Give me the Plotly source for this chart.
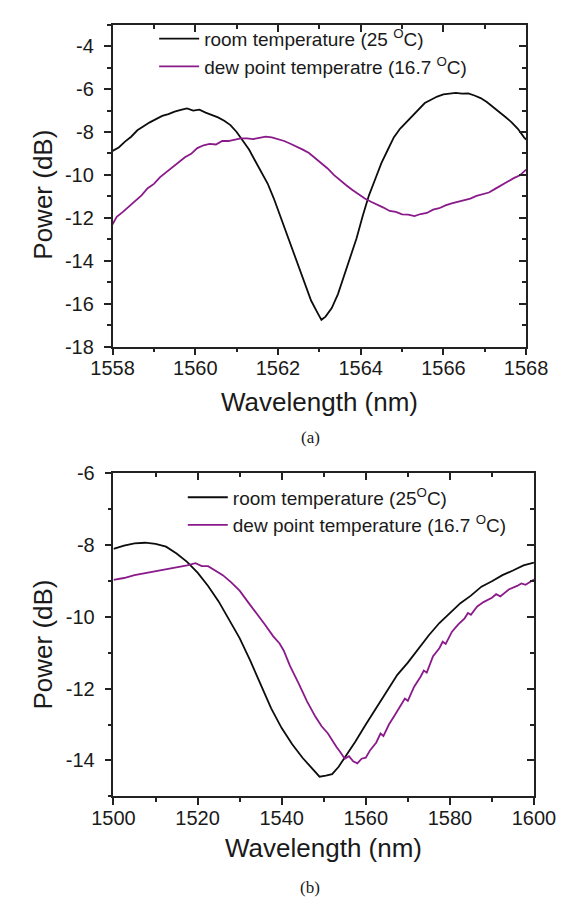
import plotly.graph_objects as go

# ---------------- data: panel (a) ----------------
a_room_x = [1558.0, 1558.15, 1558.3, 1558.45, 1558.6, 1558.75, 1558.9, 1559.05, 1559.2, 1559.35,
            1559.5, 1559.65, 1559.8, 1559.95, 1560.1, 1560.25, 1560.4, 1560.55, 1560.7, 1560.85,
            1561.0, 1561.15, 1561.3, 1561.45, 1561.6, 1561.75, 1561.9, 1562.05, 1562.2, 1562.35,
            1562.5, 1562.65, 1562.8, 1562.95, 1563.05, 1563.15, 1563.3, 1563.45, 1563.6, 1563.75,
            1563.9, 1564.05, 1564.2, 1564.35, 1564.5, 1564.65, 1564.8, 1564.95, 1565.1, 1565.25,
            1565.4, 1565.55, 1565.7, 1565.85, 1566.0, 1566.15, 1566.3, 1566.45, 1566.6, 1566.75,
            1566.9, 1567.05, 1567.2, 1567.35, 1567.5, 1567.65, 1567.8, 1567.95, 1568.0]
a_room_y = [-8.88, -8.72, -8.45, -8.22, -7.92, -7.72, -7.55, -7.4, -7.25, -7.17,
            -7.05, -6.97, -6.9, -7.0, -6.96, -7.1, -7.2, -7.32, -7.48, -7.68,
            -8.0, -8.4, -8.82, -9.35, -9.85, -10.4, -11.1, -11.9, -12.7, -13.55,
            -14.35, -15.1, -15.85, -16.4, -16.75, -16.6, -16.2, -15.55, -14.7, -13.75,
            -12.95, -11.9, -10.95, -10.2, -9.45, -8.85, -8.25, -7.85, -7.55, -7.2,
            -6.9, -6.65, -6.5, -6.35, -6.25, -6.2, -6.18, -6.21, -6.2, -6.3,
            -6.42, -6.6, -6.82, -7.05, -7.3, -7.55, -7.85, -8.25, -8.35]

a_dew_x = [1558.0, 1558.1, 1558.25, 1558.4, 1558.55, 1558.7, 1558.85, 1559.0, 1559.15, 1559.3,
           1559.45, 1559.6, 1559.75, 1559.9, 1560.05, 1560.2, 1560.35, 1560.5, 1560.65, 1560.8,
           1560.95, 1561.1, 1561.25, 1561.4, 1561.55, 1561.7, 1561.85, 1562.0, 1562.15, 1562.3,
           1562.45, 1562.6, 1562.75, 1562.9, 1563.05, 1563.2, 1563.35, 1563.5, 1563.65, 1563.8,
           1563.95, 1564.1, 1564.25, 1564.4, 1564.55, 1564.7, 1564.85, 1565.0, 1565.15, 1565.3,
           1565.45, 1565.6, 1565.75, 1565.9, 1566.05, 1566.2, 1566.35, 1566.5, 1566.65, 1566.8,
           1566.95, 1567.1, 1567.25, 1567.4, 1567.55, 1567.7, 1567.85, 1568.0]
a_dew_y = [-12.3, -11.95, -11.72, -11.45, -11.22, -10.95, -10.62, -10.42, -10.1, -9.87,
           -9.62, -9.42, -9.18, -9.02, -8.75, -8.62, -8.55, -8.58, -8.42, -8.42,
           -8.35, -8.3, -8.3, -8.33, -8.27, -8.22, -8.25, -8.32, -8.42, -8.55,
           -8.68, -8.82, -8.98, -9.22, -9.42, -9.7, -10.0, -10.25, -10.48, -10.7,
           -10.9, -11.1, -11.25, -11.38, -11.52, -11.68, -11.72, -11.84, -11.85, -11.92,
           -11.82, -11.77, -11.62, -11.55, -11.42, -11.33, -11.25, -11.15, -11.1, -10.98,
           -10.9, -10.82, -10.65, -10.48, -10.33, -10.15, -10.02, -9.75]

# ---------------- data: panel (b) ----------------
b_room_x = [1500, 1502.5, 1505, 1507.5, 1510, 1512.5, 1515, 1517.5, 1520, 1522.5,
            1525, 1527.5, 1530, 1532.5, 1535, 1537.5, 1540, 1542.5, 1545, 1547.5,
            1549, 1550.5, 1552, 1553.5, 1555, 1557.5, 1560, 1562.5, 1565, 1567.5,
            1570, 1572.5, 1575, 1577.5, 1580, 1582.5, 1585, 1587.5, 1590, 1592.5,
            1595, 1597.5, 1600]
b_room_y = [-8.12, -8.03, -7.97, -7.95, -7.98, -8.06, -8.25, -8.48, -8.78, -9.15,
            -9.58, -10.07, -10.6, -11.22, -11.88, -12.55, -13.1, -13.55, -13.93, -14.27,
            -14.45, -14.42, -14.38, -14.18, -13.92, -13.48, -13.0, -12.55, -12.08, -11.62,
            -11.28, -10.9, -10.52, -10.18, -9.9, -9.63, -9.42, -9.17, -9.02, -8.85,
            -8.72, -8.58, -8.5]

b_dew_x = [1500, 1502.5, 1505, 1507.5, 1510, 1512.5, 1515, 1517.5, 1519.5, 1521,
           1522.5, 1524, 1526, 1528, 1530, 1532, 1534, 1536, 1538, 1539.5,
           1540.5, 1542, 1544, 1546, 1548, 1549.5, 1551, 1552, 1553, 1554,
           1555, 1556, 1557, 1558, 1559, 1560, 1561, 1562.5, 1563.5, 1564.2,
           1565.5, 1567, 1568.5, 1569.3, 1570, 1571.5, 1573, 1573.8, 1574.5, 1576,
           1577.5, 1578.3, 1579, 1580.5, 1582, 1583.5, 1584.3, 1585, 1586.5, 1588,
           1590, 1591, 1592, 1594, 1596, 1597, 1598, 1600]
b_dew_y = [-8.98, -8.93, -8.85, -8.8, -8.75, -8.7, -8.64, -8.58, -8.52, -8.6,
           -8.6, -8.7, -8.85, -9.05, -9.28, -9.6, -9.9, -10.22, -10.55, -10.75,
           -10.95, -11.38, -11.85, -12.35, -12.78, -13.05, -13.25, -13.45, -13.62, -13.78,
           -13.95, -13.88, -14.02, -14.08, -13.95, -13.92, -13.72, -13.5, -13.25, -13.32,
           -13.0, -12.72, -12.42, -12.28, -12.34, -11.95, -11.68, -11.5, -11.56, -11.1,
           -10.88, -10.7, -10.76, -10.42, -10.22, -10.05, -9.9, -9.95, -9.72, -9.6,
           -9.48, -9.38, -9.44, -9.25, -9.15, -9.08, -9.12, -8.97]

# ---------------- tick values / labels ----------------
a_xticks = [1558, 1560, 1562, 1564, 1566, 1568]
a_yticks = [-18, -16, -14, -12, -10, -8, -6, -4]
b_xticks = [1500, 1520, 1540, 1560, 1580, 1600]
b_yticks = [-14, -12, -10, -8, -6]

room_a_label = "room temperature (25 <sup>O</sup>C)"
dew_a_label = "dew point temperatre (16.7 <sup>O</sup>C)"
room_b_label = "room temperature (25<sup>O</sup>C)"
dew_b_label = "dew point temperature (16.7 <sup>O</sup>C)"

BLACK = "#0d0d0d"
PURPLE = "#8a1a8a"
AX = "#222222"
FONT = "Liberation Sans, Arial, sans-serif"

W, H = 580, 908
def px_x(p):
    return p / W
def px_y(p):
    return 1 - p / H

fig = go.Figure()
fig.add_trace(go.Scatter(x=a_room_x, y=a_room_y, mode="lines", name=room_a_label,
                         line=dict(color=BLACK, width=1.8), xaxis="x", yaxis="y", legend="legend"))
fig.add_trace(go.Scatter(x=a_dew_x, y=a_dew_y, mode="lines", name=dew_a_label,
                         line=dict(color=PURPLE, width=1.8), xaxis="x", yaxis="y", legend="legend"))
fig.add_trace(go.Scatter(x=b_room_x, y=b_room_y, mode="lines", name=room_b_label,
                         line=dict(color=BLACK, width=1.8), xaxis="x2", yaxis="y2", legend="legend2"))
fig.add_trace(go.Scatter(x=b_dew_x, y=b_dew_y, mode="lines", name=dew_b_label,
                         line=dict(color=PURPLE, width=1.8), xaxis="x2", yaxis="y2", legend="legend2"))

# empty helper traces so the mirrored (top / right) tick axes get drawn
for xa, ya in [("x3", "y"), ("x", "y3"), ("x4", "y2"), ("x2", "y4")]:
    fig.add_trace(go.Scatter(x=[None], y=[None], mode="lines", xaxis=xa, yaxis=ya,
                             showlegend=False, hoverinfo="skip"))

a_dom_x = [px_x(98), px_x(545.5)]
a_dom_y = [px_y(344), px_y(14)]
b_dom_x = [px_x(99), px_x(554)]
b_dom_y = [px_y(805), px_y(473)]

def main_axis(domain, rng, ticks, mdtick, anchor, standoff):
    return dict(domain=domain, range=rng, anchor=anchor,
                tickmode="array", tickvals=ticks, ticktext=[str(t) for t in ticks],
                ticks="outside", ticklen=7, tickwidth=1.5, tickcolor=AX,
                minor=dict(dtick=mdtick, tick0=0, ticks="outside", ticklen=4, tickwidth=1.5, tickcolor=AX),
                showline=True, linewidth=1.5, linecolor=AX, mirror=True,
                showgrid=False, zeroline=False,
                tickfont=dict(family=FONT, size=20, color="#1a1a1a"),
                ticklabelstandoff=standoff)

def mirror_axis(over, rng, ticks, mdtick, anchor, side):
    return dict(overlaying=over, range=rng, anchor=anchor, side=side,
                tickmode="array", tickvals=ticks,
                ticks="inside", ticklen=7, tickwidth=1.5, tickcolor=AX,
                minor=dict(dtick=mdtick, tick0=0, ticks="inside", ticklen=4, tickwidth=1.5, tickcolor=AX),
                showticklabels=False, showline=False, showgrid=False, zeroline=False)

fig.update_layout(
    width=W, height=H,
    margin=dict(l=0, r=0, t=0, b=0),
    paper_bgcolor="white", plot_bgcolor="white",
    xaxis=main_axis(a_dom_x, [1558, 1568], a_xticks, 1, "y", -4),
    yaxis=main_axis(a_dom_y, [-18, -3], a_yticks, 1, "x", 6),
    xaxis2=main_axis(b_dom_x, [1500, 1600], b_xticks, 10, "y2", -4),
    yaxis2=main_axis(b_dom_y, [-15, -6], b_yticks, 1, "x2", 6),
    xaxis3=mirror_axis("x", [1558, 1568], a_xticks, 1, "y", "top"),
    yaxis3=mirror_axis("y", [-18, -3], a_yticks, 1, "x", "right"),
    xaxis4=mirror_axis("x2", [1500, 1600], b_xticks, 10, "y2", "top"),
    yaxis4=mirror_axis("y2", [-15, -6], b_yticks, 1, "x2", "right"),
    legend=dict(x=px_x(143), y=px_y(9), xanchor="left", yanchor="top",
                bgcolor="rgba(0,0,0,0)", font=dict(family=FONT, size=19, color="#1a1a1a"),
                tracegroupgap=0, itemwidth=40),
    legend2=dict(x=px_x(174), y=px_y(479), xanchor="left", yanchor="top",
                 bgcolor="rgba(0,0,0,0)", font=dict(family=FONT, size=19, color="#1a1a1a"),
                 tracegroupgap=0, itemwidth=40),
    showlegend=True,
)

title_font = dict(family=FONT, size=26, color="#1a1a1a")
annots = [
    dict(text="Wavelength (nm)", x=(a_dom_x[0] + a_dom_x[1]) / 2, y=px_y(401),
         xanchor="center", yanchor="middle", font=title_font),
    dict(text="Power (dB)", x=px_x(23), y=px_y(188), textangle=-90,
         xanchor="center", yanchor="middle", font=title_font),
    dict(text="Wavelength (nm)", x=(b_dom_x[0] + b_dom_x[1]) / 2, y=px_y(858),
         xanchor="center", yanchor="middle", font=title_font),
    dict(text="Power (dB)", x=px_x(23), y=px_y(649), textangle=-90,
         xanchor="center", yanchor="middle", font=title_font),
    dict(text="(a)", x=px_x(312), y=px_y(437), xanchor="center", yanchor="middle",
         font=dict(family="Liberation Serif, Times New Roman, serif", size=17, color="#1a1a1a")),
    dict(text="(b)", x=px_x(312), y=px_y(898), xanchor="center", yanchor="middle",
         font=dict(family="Liberation Serif, Times New Roman, serif", size=17, color="#1a1a1a")),
]
for a in annots:
    a.update(xref="paper", yref="paper", showarrow=False)
fig.update_layout(annotations=annots)

fig.write_html("out.html")
